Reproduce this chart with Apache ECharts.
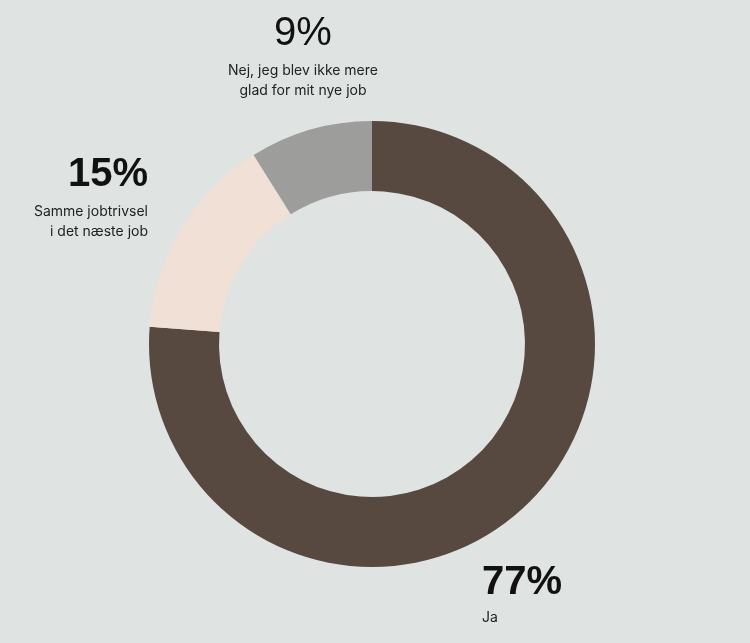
<!DOCTYPE html>
<html>
<head>
<meta charset="utf-8">
<script src="https://cdn.jsdelivr.net/npm/echarts@6/dist/echarts.min.js"></script>
<style>
html, body { margin: 0; padding: 0; background: #dfe4e3; }
#graphContainer { width: 750px; height: 643px; }
</style>
</head>
<body>
<div id="graphContainer"></div>
<script>
// answers, in drawing order (clockwise from the top)
var categories = ['Ja', 'Samme jobtrivsel i det næste job', 'Nej, jeg blev ikke mere glad for mit nye job'];
var shares = [77, 15, 9];
var shareLabels = ['77%', '15%', '9%'];
var colors = ['#574840', '#f0e0d6', '#9d9e9c'];

var dom = document.getElementById('graphContainer');
var myEChart = echarts.init(dom, null, { renderer: 'canvas' });

var seriesData = [];
for (var i = 0; i < categories.length; i++) {
	seriesData.push({
		name: categories[i],
		value: shares[i],
		itemStyle: { color: colors[i] }
	});
}

var bigFont = '"Liberation Sans", Arial, sans-serif';
var smallFont = 'Inter, "Open Sans", sans-serif';

var option = {
	backgroundColor: '#dfe4e3',
	animation: false,
	series: [{
		type: 'pie',
		center: [372, 344],
		radius: [153, 223],
		startAngle: 90,
		clockwise: true,
		silent: true,
		label: { show: false },
		labelLine: { show: false },
		data: seriesData
	}],
	graphic: [
		{ type: 'text', x: 303, y: 14,
		  style: { text: shareLabels[2], font: '400 40px ' + bigFont, fill: '#111', align: 'center' } },
		{ type: 'text', x: 303, y: 61,
		  style: { text: 'Nej, jeg blev ikke mere\nglad for mit nye job', font: '14px ' + smallFont,
		           fill: '#222', align: 'center', lineHeight: 20 } },
		{ type: 'text', x: 148, y: 155,
		  style: { text: shareLabels[1], font: 'bold 40px ' + bigFont, fill: '#111', align: 'right' } },
		{ type: 'text', x: 148, y: 202,
		  style: { text: 'Samme jobtrivsel\ni det næste job', font: '14px ' + smallFont,
		           fill: '#222', align: 'right', lineHeight: 20 } },
		{ type: 'text', x: 482, y: 563,
		  style: { text: shareLabels[0], font: 'bold 40px ' + bigFont, fill: '#111' } },
		{ type: 'text', x: 482, y: 611,
		  style: { text: 'Ja', font: '14px ' + smallFont, fill: '#222' } }
	]
};
myEChart.setOption(option);
window.addEventListener('resize', myEChart.resize);
</script>
</body>
</html>
